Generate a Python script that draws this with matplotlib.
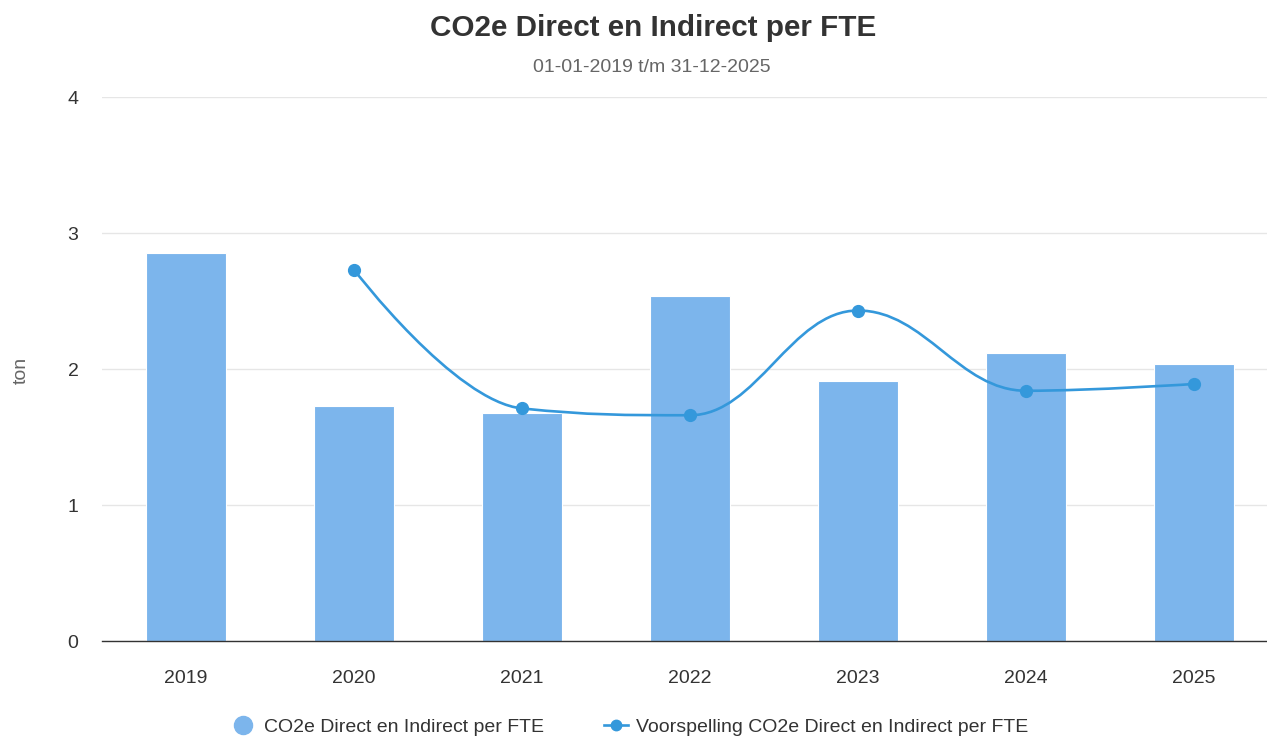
import matplotlib.pyplot as plt
from matplotlib.path import Path
from matplotlib.patches import PathPatch
from matplotlib.lines import Line2D
import numpy as np

plt.rcParams['font.family'] = ['Liberation Sans', 'DejaVu Sans']

years = ['2019', '2020', '2021', '2022', '2023', '2024', '2025']
actual = [2.85, 1.73, 1.68, 2.54, 1.91, 2.12, 2.04]
forecast_years = ['2020', '2021', '2022', '2023', '2024', '2025']
forecast = [2.73, 1.71, 1.66, 2.43, 1.84, 1.89]

bar_color = '#7cb5ec'
line_color = '#3498db'
txt = '#333333'


def spline_path(xs, ys, smoothing=1.5):
    # highcharts-style spline: cubic bezier with control points per point
    denom = smoothing + 1
    n = len(xs)
    right = [None] * n
    left = [None] * n
    for i in range(1, n - 1):
        px, py = xs[i], ys[i]
        lx, ly = xs[i - 1], ys[i - 1]
        nx, ny = xs[i + 1], ys[i + 1]
        lcx = (smoothing * px + lx) / denom
        lcy = (smoothing * py + ly) / denom
        rcx = (smoothing * px + nx) / denom
        rcy = (smoothing * py + ny) / denom
        corr = (rcy - lcy) * (rcx - px) / (rcx - lcx) + py - rcy
        lcy += corr
        rcy += corr
        if lcy > ly and lcy > py:
            lcy = max(ly, py)
            rcy = 2 * py - lcy
        elif lcy < ly and lcy < py:
            lcy = min(ly, py)
            rcy = 2 * py - lcy
        if rcy > ny and rcy > py:
            rcy = max(ny, py)
            lcy = 2 * py - rcy
        elif rcy < ny and rcy < py:
            rcy = min(ny, py)
            lcy = 2 * py - rcy
        left[i] = (lcx, lcy)
        right[i] = (rcx, rcy)
    verts = [(xs[0], ys[0])]
    codes = [Path.MOVETO]
    for i in range(1, n):
        c1 = right[i - 1] or (xs[i - 1], ys[i - 1])
        c2 = left[i] or (xs[i], ys[i])
        verts += [c1, c2, (xs[i], ys[i])]
        codes += [Path.CURVE4] * 3
    return Path(verts, codes)


fig = plt.figure(figsize=(12.67, 7.38), dpi=100)
W, H = 1267, 738
ax = fig.add_axes([102 / W, (H - 641) / H, 1176 / W, 544 / H])

x = np.arange(len(years))
ax.bar(x, actual, width=0.48, color=bar_color, edgecolor='white', linewidth=0.8, zorder=2)

fx = [years.index(y) for y in forecast_years]
ax.add_patch(PathPatch(spline_path(fx, forecast), facecolor='none', edgecolor=line_color,
                       linewidth=1.9, zorder=3, capstyle='round'))
ax.plot(fx, forecast, 'o', color=line_color, markersize=8.5, zorder=4)

ax.set_xlim(-0.5, len(years) - 0.5)
ax.set_ylim(0, 4)
ax.set_yticks([0, 1, 2, 3, 4])
ax.set_xticks(x)
ax.set_xticklabels(years)
ax.grid(axis='y', color='#e6e6e6', linewidth=1, zorder=0)
ax.set_axisbelow(True)
for s in ['top', 'right', 'left']:
    ax.spines[s].set_visible(False)
ax.spines['bottom'].set_color('#333333')
ax.spines['bottom'].set_linewidth(1)
ax.spines['bottom'].set_zorder(5)
ax.tick_params(axis='both', length=0, labelsize=14, colors=txt)
ax.tick_params(axis='x', pad=21)
ax.tick_params(axis='y', pad=17)

fig.text(21 / W, 1 - 370 / H, 'ton', rotation=90, ha='center', va='center', fontsize=14, color='#666666')
fig.text(653 / W, 1 - 28 / H, 'CO2e Direct en Indirect per FTE', ha='center', va='center',
         fontsize=21.3, fontweight='bold', color=txt)
fig.text(652 / W, 1 - 67 / H, '01-01-2019 t/m 31-12-2025', ha='center', va='center',
         fontsize=14, color='#666666')

handles = [
    Line2D([], [], linestyle='none', marker='o', markersize=13, color=bar_color),
    Line2D([], [], color=line_color, linewidth=1.9, marker='o', markersize=7.5),
]
fig.legend(handles, ['CO2e Direct en Indirect per FTE', 'Voorspelling CO2e Direct en Indirect per FTE'],
           loc='center', bbox_to_anchor=(630 / W, 1 - 727 / H), ncol=2, frameon=False,
           fontsize=14, labelcolor=txt, handlelength=1.25, handletextpad=0.42, columnspacing=3.1)

fig.savefig('out.png', dpi=100)
